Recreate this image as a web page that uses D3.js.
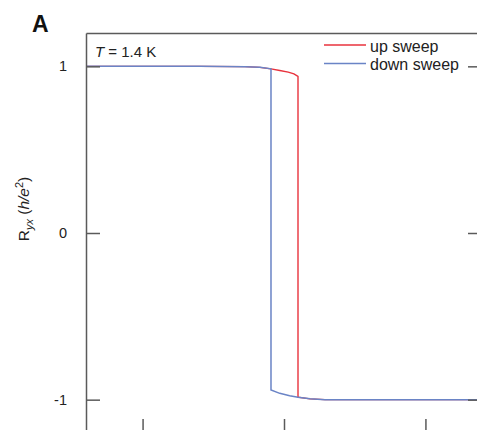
<!DOCTYPE html>
<html>
<head>
<meta charset="utf-8">
<script src="https://cdn.jsdelivr.net/npm/d3@7"></script>
<style>
  html, body { margin: 0; padding: 0; background: #fff; }
  svg { display: block; font-family: "Liberation Sans", Arial, sans-serif; }
</style>
</head>
<body>
<svg id="chart" width="477" height="430"></svg>
<script>
// Hall resistance hysteresis loop, R_yx in units of h/e^2 versus field
const fieldTicks = [-1, 0, 1];
const ryxTicks = [1, 0, -1];
const ryxTickLabels = ["1", "0", "-1"];

// up sweep (red)
const upField = [-1.4, -0.6, -0.276, -0.17, -0.092, -0.03, 0.03, 0.07, 0.099, 0.099, 0.184, 0.29, 1.4];
const upRyx   = [1.0, 1.0, 0.998, 0.994, 0.985, 0.975, 0.965, 0.955, 0.94, -0.985, -0.995, -1.0, -1.0];

// down sweep (blue)
const downField = [-1.4, -0.6, -0.276, -0.17, -0.092, -0.092, -0.03, 0.04, 0.099, 0.184, 0.29, 1.4];
const downRyx   = [1.0, 1.0, 0.998, 0.994, 0.985, -0.942, -0.962, -0.976, -0.986, -0.995, -1.0, -1.0];

const legendLabels = ["up sweep", "down sweep"];
const seriesColors = ["#e8323c", "#6a84c6"];

const svg = d3.select("#chart");
const margin = { left: 86, top: 33, right: 482, bottom: 433 };

const x = d3.scaleLinear().domain([-1.4, 1.4]).range([margin.left, margin.right]);
const y = d3.scaleLinear().domain([-1.2, 1.2]).range([margin.bottom, margin.top]);

const line = d3.line().x(d => x(d[0])).y(d => y(d[1]));
const upData = upField.map((f, i) => [f, upRyx[i]]);
const downData = downField.map((f, i) => [f, downRyx[i]]);

const axisColor = "#5a5a5a";

// curves: up sweep underneath, down sweep on top
svg.append("path").datum(upData)
  .attr("d", line).attr("fill", "none")
  .attr("stroke", seriesColors[0]).attr("stroke-width", 1.4);
svg.append("path").datum(downData)
  .attr("d", line).attr("fill", "none")
  .attr("stroke", seriesColors[1]).attr("stroke-width", 1.5);

// frame axes with inward ticks
const tickLen = 14;
const leftAxis = d3.axisLeft(y).tickValues(ryxTicks)
  .tickFormat((d, i) => ryxTickLabels[i]).tickSizeInner(-tickLen).tickSizeOuter(0);
const gl = svg.append("g").attr("transform", `translate(${margin.left},0)`).call(leftAxis);
gl.selectAll("text").attr("x", -19).style("font-size", "14.5px").attr("fill", "#222");

const rightAxis = d3.axisRight(y).tickValues(ryxTicks).tickFormat("").tickSizeInner(-tickLen).tickSizeOuter(0);
const gr = svg.append("g").attr("transform", `translate(${margin.right},0)`).call(rightAxis);

const bottomAxis = d3.axisBottom(x).tickValues(fieldTicks).tickFormat("").tickSizeInner(-tickLen).tickSizeOuter(0);
const gb = svg.append("g").attr("transform", `translate(0,${margin.bottom})`).call(bottomAxis);

const topAxis = d3.axisTop(x).tickValues([]).tickSizeOuter(0);
const gt = svg.append("g").attr("transform", `translate(0,${margin.top})`).call(topAxis);

[gl, gr, gb, gt].forEach(g => {
  g.selectAll(".domain").attr("stroke", axisColor).attr("stroke-width", 1.5);
  g.selectAll(".tick line").attr("stroke", axisColor).attr("stroke-width", 1.5);
});

// panel letter
svg.append("text").attr("x", 32).attr("y", 32)
  .style("font-size", "23px").style("font-weight", "bold").attr("fill", "#111").text("A");

// temperature annotation
const tLabel = svg.append("text").attr("x", 95).attr("y", 56.5)
  .style("font-size", "15px").attr("fill", "#222");
tLabel.append("tspan").style("font-style", "italic").text("T");
tLabel.append("tspan").text(" = 1.4 K");

// legend
const legend = svg.append("g");
legendLabels.forEach((lab, i) => {
  const ly = 45 + i * 18.5;
  legend.append("line").attr("x1", 324).attr("x2", 366).attr("y1", ly).attr("y2", ly)
    .attr("stroke", seriesColors[i]).attr("stroke-width", 1.4);
  legend.append("text").attr("x", 370).attr("y", ly + 6.5)
    .style("font-size", "16px").attr("fill", "#222").text(lab);
});

// y-axis title: R_yx (h/e^2)
const yTitle = svg.append("text")
  .attr("transform", "translate(29,209) rotate(-90)")
  .attr("text-anchor", "middle").style("font-size", "15.5px").attr("fill", "#222");
yTitle.append("tspan").text("R");
yTitle.append("tspan").attr("dy", 4).style("font-size", "11px").style("font-style", "italic").text("yx");
yTitle.append("tspan").attr("dy", -4).text(" (");
yTitle.append("tspan").style("font-style", "italic").text("h/e");
yTitle.append("tspan").attr("dy", -6).style("font-size", "11px").text("2");
yTitle.append("tspan").attr("dy", 6).text(")");
</script>
</body>
</html>
